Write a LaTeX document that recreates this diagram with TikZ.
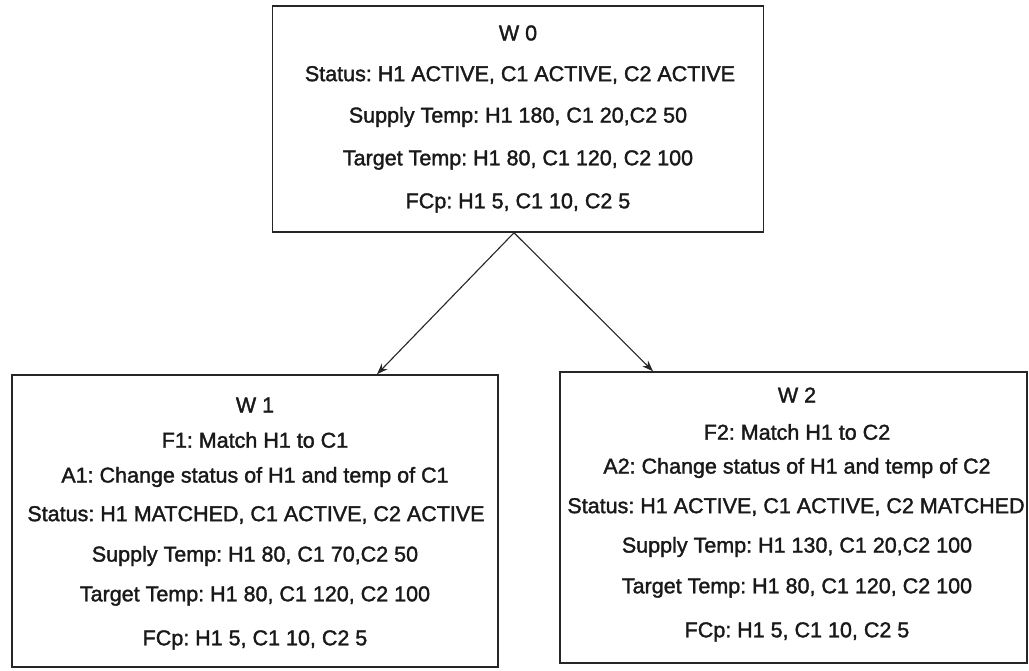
\documentclass[tikz,border=0pt]{standalone}
\usepackage{fontspec}
\setmainfont{Liberation Sans}
\newfontfamily\scanfont{Liberation Sans}[FakeBold=1.6]
\usetikzlibrary{arrows.meta}
\begin{document}
\begin{tikzpicture}[x=1pt,y=-1pt,
  box/.style={draw=black!85,line width=1.5pt,rectangle,inner sep=0pt},
  txt/.style={inner sep=0pt,font=\scanfont\frenchspacing\fontsize{21.5}{23}\selectfont,text=black!90},
  link/.style={draw=black!85,line width=1.1pt,-{Stealth[length=11pt,width=8pt]}}]
\useasboundingbox (0,0) rectangle (1029,670);
\fill[white] (0,0) rectangle (1029,670);
% boxes
\node[box,minimum width=491pt,minimum height=226pt] (w0) at (518,119) {};
\node[box,minimum width=486pt,minimum height=292pt] (w1) at (255,521) {};
\node[box,minimum width=467pt,minimum height=291pt] (w2) at (793.5,517.5) {};
% W0 text
\node[txt] (w0a) at (518,33) {W 0};
\node[txt] (w0b) at (520,75) {Status: H1 ACTIVE, C1 ACTIVE, C2 ACTIVE};
\node[txt] (w0c) at (518,117) {Supply Temp: H1 180, C1 20,C2 50};
\node[txt] (w0d) at (518,160) {Target Temp: H1 80, C1 120, C2 100};
\node[txt] (w0e) at (518,203) {FCp: H1 5, C1 10, C2 5};
% W1 text
\node[txt] (w1a) at (255,405) {W 1};
\node[txt] (w1b) at (255,440) {F1: Match H1 to C1};
\node[txt] (w1c) at (255,477) {A1: Change status of H1 and temp of C1};
\node[txt] (w1d) at (256,515) {Status: H1 MATCHED, C1 ACTIVE, C2 ACTIVE};
\node[txt] (w1e) at (255,556) {Supply Temp: H1 80, C1 70,C2 50};
\node[txt] (w1f) at (255,596) {Target Temp: H1 80, C1 120, C2 100};
\node[txt] (w1g) at (255,640) {FCp: H1 5, C1 10, C2 5};
% W2 text
\node[txt] (w2a) at (797,395) {W 2};
\node[txt] (w2b) at (797,432) {F2: Match H1 to C2};
\node[txt] (w2c) at (797,468) {A2: Change status of H1 and temp of C2};
\node[txt] (w2d) at (796,507) {Status: H1 ACTIVE, C1 ACTIVE, C2 MATCHED};
\node[txt] (w2e) at (797,547) {Supply Temp: H1 130, C1 20,C2 100};
\node[txt] (w2f) at (797,588) {Target Temp: H1 80, C1 120, C2 100};
\node[txt] (w2g) at (797,632) {FCp: H1 5, C1 10, C2 5};
% connectors
\coordinate (s) at ([xshift=-4pt]w0.south);
\draw[link] (s) -- (w1.north -| 377,0);
\draw[link] (s) -- (w2.north -| 653,0);
\end{tikzpicture}
\end{document}
